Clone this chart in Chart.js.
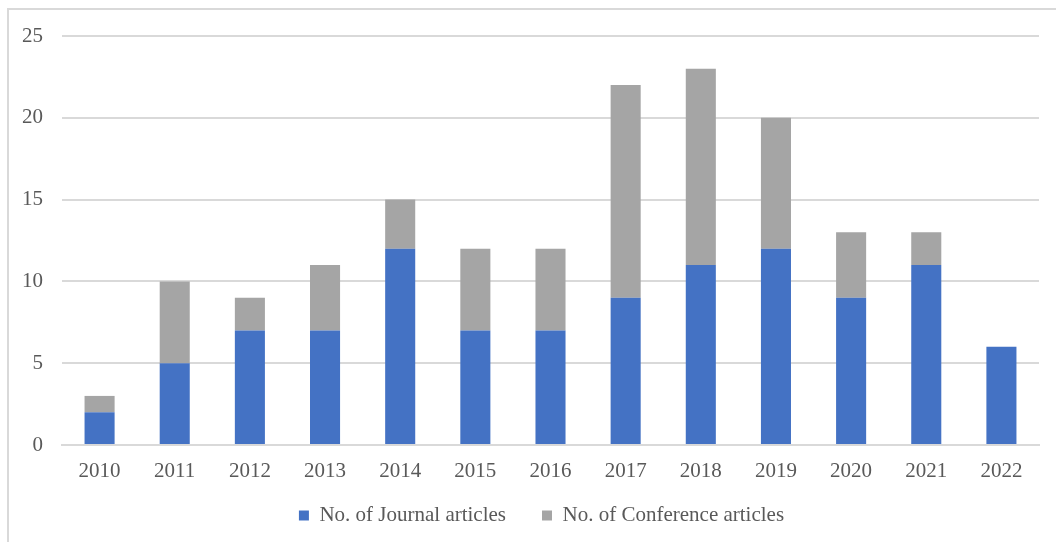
<!DOCTYPE html>
<html>
<head>
<meta charset="utf-8">
<script src="https://cdn.jsdelivr.net/npm/chart.js@4"></script>
<style>
  html, body { margin: 0; padding: 0; background: #fff; }
  #wrap { position: relative; width: 1056px; height: 542px; overflow: hidden; }
  #frame { position: absolute; left: 7px; top: 8px; width: 1200px; height: 700px; border-left: 2px solid #d9d9d9; border-top: 2px solid #d9d9d9; }
  canvas { position: absolute; left: 0; top: 0; }
</style>
</head>
<body>
<div id="wrap">
  <div id="frame"></div>
  <canvas id="grafico" width="1056" height="542"></canvas>
</div>
<script>
const anos = ["2010", "2011", "2012", "2013", "2014", "2015", "2016", "2017", "2018", "2019", "2020", "2021", "2022"];
const journal = [2, 5, 7, 7, 12, 7, 7, 9, 11, 12, 9, 11, 6];
const conference = [1, 5, 2, 4, 3, 5, 5, 13, 12, 8, 4, 2, 0];
const yTicks = [0, 5, 10, 15, 20, 25];

const fonte = { family: "'Liberation Serif', 'Times New Roman', serif", size: 21 };
const corTexto = "#595959";
const corGrade = "#d9d9d9";

// ajusta a posicao da legenda depois do layout (como no original)
const moverLegenda = {
  id: "moverLegenda",
  afterLayout(chart) {
    const lg = chart.legend;
    lg.left += 22;
    lg.right += 22;
    lg.top -= 12;
    lg.bottom -= 12;
  }
};

const ctx = document.getElementById("grafico").getContext("2d");
new Chart(ctx, {
  type: "bar",
  data: {
    labels: anos,
    datasets: [
      { label: "No. of Journal articles", data: journal, backgroundColor: "#4472c4" },
      { label: "No. of Conference articles", data: conference, backgroundColor: "#a5a5a5" }
    ]
  },
  options: {
    responsive: false,
    animation: false,
    layout: { padding: { top: 36, right: 17, left: 0, bottom: -6 } },
    datasets: { bar: { categoryPercentage: 1, barPercentage: 0.4, borderWidth: 0 } },
    plugins: {
      tooltip: { enabled: false },
      legend: {
        position: "bottom",
        labels: {
          font: fonte,
          color: corTexto,
          boxWidth: 10,
          boxHeight: 10,
          padding: 36
        }
      }
    },
    scales: {
      x: {
        stacked: true,
        grid: { display: false, drawTicks: false },
        border: { display: true, color: corGrade, width: 2 },
        ticks: { font: fonte, color: corTexto, padding: 14, maxRotation: 0 },
        afterFit: (scale) => { scale.height = 36; }
      },
      y: {
        stacked: true,
        min: 0,
        max: 25,
        afterBuildTicks: (scale) => { scale.ticks = yTicks.map(v => ({ value: v })); },
        grid: { color: corGrade, lineWidth: 2, drawTicks: false },
        border: { display: false },
        ticks: { font: fonte, color: corTexto, padding: 19 },
        afterFit: (scale) => { scale.width = 62; }
      }
    }
  },
  plugins: [moverLegenda]
});
</script>
</body>
</html>
